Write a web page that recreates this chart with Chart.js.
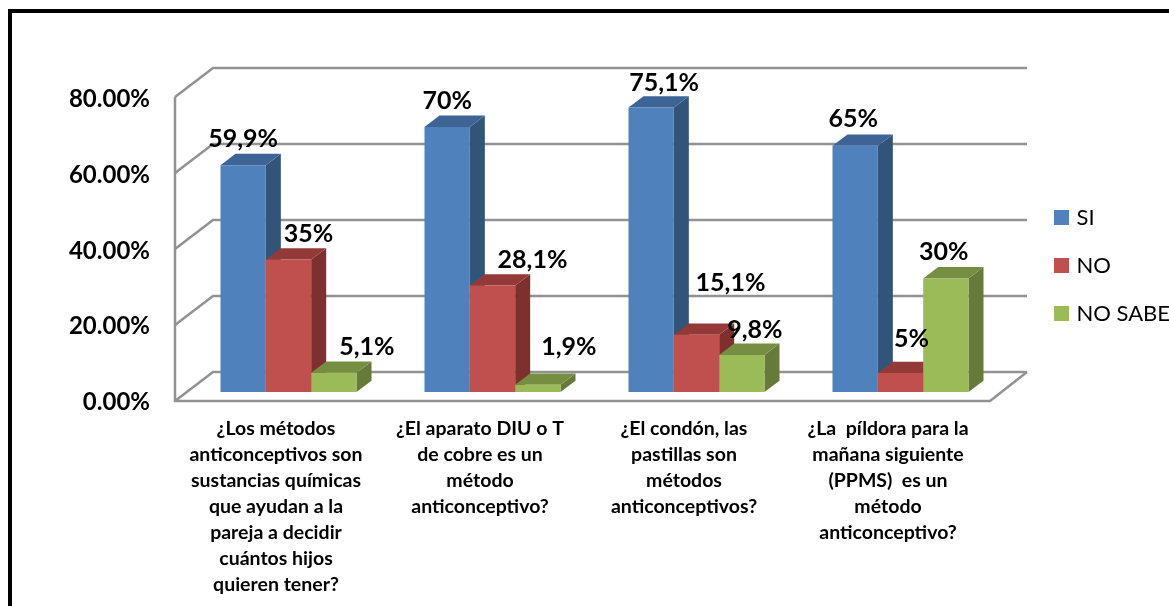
<!DOCTYPE html>
<html>
<head>
<meta charset="utf-8">
<style>html,body{margin:0;padding:0;background:#fff;overflow:hidden}canvas{display:block}</style>
<script src="https://cdn.jsdelivr.net/npm/chart.js@4/dist/chart.umd.min.js"></script>
</head>
<body>
<canvas id="c" width="1169" height="606"></canvas>
<script>
const categories = [
  ['¿Los métodos','anticonceptivos son','sustancias químicas','que ayudan a la','pareja a decidir','cuántos hijos','quieren tener?'],
  ['¿El aparato DIU o T','de cobre es un','método','anticonceptivo?'],
  ['¿El condón, las','pastillas son','métodos','anticonceptivos?'],
  ['¿La  píldora para la','mañana siguiente','(PPMS)  es un','método','anticonceptivo?']
];
const si = [59.9, 70, 75.1, 65];
const no = [35, 28.1, 15.1, 5];
const noSabe = [5.1, 1.9, 9.8, 30];
const siText = ['59,9%','70%','75,1%','65%'];
const noText = ['35%','28,1%','15,1%','5%'];
const noSabeText = ['5,1%','1,9%','9,8%','30%'];
// label displacement from the top-centre of each bar's front face
const labelShift = [
  [[0,-26],[0,-26],[13,-25],[-2,-27]],
  [[20,-26],[40,-26],[34,-52],[11,-34]],
  [[33,-26],[31,-38],[13,-25],[-2,-26]]
];
const texts = [siText, noText, noSabeText];
const sideColors = ['#335479','#7D302E','#667B3A'];
const topColors = ['#3D6495','#933A38','#768E42'];
const FONT = 'Lato, Carlito, sans-serif';
const DX = 15, DY = 11.3;

const scene = {
  id: 'scene',
  beforeLayout(chart) {
    const lg = chart.legend;
    if (lg && !lg._wrapped) {
      const f = lg.fit;
      lg.fit = function () { f.call(this); this.width = 166.5; };
      lg._wrapped = true;
    }
  },
  afterLayout(chart) {
    chart.legend.left = 1031.5;
    chart.legend.top = 180.5;
  },
  beforeDraw(chart) {
    const c = chart.ctx;
    c.save();
    c.fillStyle = '#000';
    c.fillRect(8, 9, 1161, 4);
    c.fillRect(8, 9, 4, 597);
    c.restore();
  },
  beforeDatasetsDraw(chart) {
    const c = chart.ctx, a = chart.chartArea, y = chart.scales.y;
    c.save();
    c.strokeStyle = '#929292';
    c.lineWidth = 2.5;
    c.lineJoin = 'miter';
    const fl = a.left - 11.5, bl = a.left + 26.5, br = a.right + 24.5, fr = a.right - 12.5;
    const fo = 9, bo = -20;
    const p0 = y.getPixelForValue(0);
    // walls are 1px taller than the bars' plane over the full axis
    const wall = v => p0 + (y.getPixelForValue(v) - p0) * 304 / 303;
    y.ticks.forEach(t => {
      const p = wall(t.value);
      c.beginPath();
      c.moveTo(fl, p + fo); c.lineTo(bl, p + bo); c.lineTo(br, p + bo);
      c.stroke();
    });
    const pT = wall(80);
    c.beginPath();
    c.moveTo(fl, pT + fo); c.lineTo(fl, p0 + fo); c.lineTo(fr, p0 + fo); c.lineTo(br, p0 + bo);
    c.stroke();
    // side and top faces of the bars
    chart.data.datasets.forEach((ds, di) => {
      chart.getDatasetMeta(di).data.forEach(el => {
        const l = el.x - el.width / 2, r = el.x + el.width / 2, t = el.y, b = el.base;
        c.fillStyle = sideColors[di];
        c.beginPath();
        c.moveTo(r, t); c.lineTo(r + DX, t - DY); c.lineTo(r + DX, b - DY); c.lineTo(r, b);
        c.closePath(); c.fill();
        c.fillStyle = topColors[di];
        c.beginPath();
        c.moveTo(l, t); c.lineTo(l + DX, t - DY); c.lineTo(r + DX, t - DY); c.lineTo(r, t);
        c.closePath(); c.fill();
      });
    });
    c.restore();
  },
  afterDatasetsDraw(chart) {
    const c = chart.ctx;
    c.save();
    c.font = 'bold 25px ' + FONT;
    c.fillStyle = '#000';
    c.textAlign = 'center';
    c.textBaseline = 'middle';
    chart.data.datasets.forEach((ds, di) => {
      chart.getDatasetMeta(di).data.forEach((el, i) => {
        const s = labelShift[di][i];
        c.fillText(texts[di][i], el.x + s[0], el.y + s[1]);
      });
    });
    c.restore();
  }
};

new Chart(document.getElementById('c'), {
  type: 'bar',
  data: {
    labels: categories,
    datasets: [
      { label: 'SI', data: si, backgroundColor: '#4F81BD' },
      { label: 'NO', data: no, backgroundColor: '#C0504D' },
      { label: 'NO SABE', data: noSabe, backgroundColor: '#9BBB59' }
    ]
  },
  options: {
    responsive: false,
    animation: false,
    devicePixelRatio: 1,
    layout: { padding: { top: 89, left: 0, right: 0, bottom: 0 } },
    datasets: { bar: { categoryPercentage: 2 / 3, barPercentage: 1, borderWidth: 0 } },
    plugins: {
      tooltip: { enabled: false },
      legend: {
        position: 'right',
        align: 'start',
        labels: {
          boxWidth: 8, boxHeight: 8, padding: 26, color: '#000',
          font: { family: FONT, size: 22 },
          generateLabels(chart) {
            return Chart.defaults.plugins.legend.labels.generateLabels(chart).map(it => {
              it.lineWidth = 7; it.strokeStyle = it.fillStyle; return it;
            });
          }
        }
      }
    },
    scales: {
      x: {
        afterFit(s) { s.height = 214; },
        grid: { display: false, drawTicks: false },
        border: { display: false },
        ticks: {
          autoSkip: false, maxRotation: 0, minRotation: 0,
          padding: 24, labelOffset: -12.5, color: '#000',
          font: { family: FONT, size: 19.5, weight: 'bold', lineHeight: 26 / 19.5 }
        }
      },
      y: {
        min: 0, max: 80,
        afterFit(s) { s.width = 186.5; },
        grid: { display: false, drawTicks: false },
        border: { display: false },
        ticks: {
          stepSize: 20, padding: 36.5, labelOffset: 10.5, color: '#000',
          font: { family: FONT, size: 24, weight: 'bold' },
          callback: v => v.toFixed(2) + '%'
        }
      }
    }
  },
  plugins: [scene]
});
</script>
</body>
</html>
